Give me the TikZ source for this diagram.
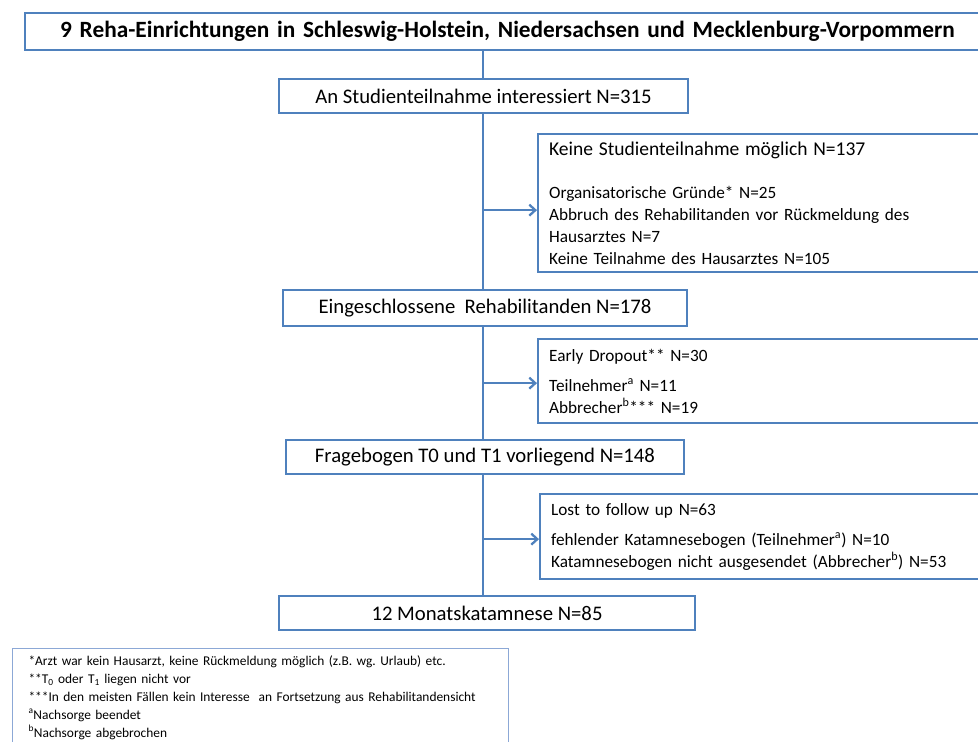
\documentclass[tikz,border=0pt]{standalone}
\usepackage{fontspec}
\setmainfont{Carlito}
\usepackage{xcolor}
\usepackage{tikz}
\usetikzlibrary{arrows.meta,positioning}
\frenchspacing

\definecolor{boxblue}{HTML}{4F81BD}
\definecolor{noteblue}{HTML}{8CA8D6}

\begin{document}
\begin{tikzpicture}[>={Straight Barb[length=6bp,width=11bp]}]
 \tikzstyle{mainbox}=[draw=boxblue,line width=2.3bp,fill=white,inner sep=0pt,
   minimum height=34bp,font=\fontsize{20.8}{24}\selectfont]
 \tikzstyle{sidebox}=[draw=boxblue,line width=2.3bp,fill=white,anchor=north west,
   text width=458bp,inner xsep=11bp,align=left,font=\fontsize{17.3}{22}\selectfont]
 \tikzstyle{link}=[draw=boxblue,line width=2.3bp]
 \useasboundingbox (0bp,0bp) rectangle (978bp,-742bp);
 \clip (0bp,0bp) rectangle (978bp,-742bp);

 \node (title) at (24bp,-31.5bp) [draw=boxblue,line width=2.3bp,anchor=west,
   minimum height=37bp,text width=990bp,inner xsep=35bp,align=left,
   font=\fontsize{23.4}{26}\selectfont\bfseries]
   {9 Reha-Einrichtungen in Schleswig-Holstein, Niedersachsen und Mecklenburg-Vorpommern};

 \node (A) at (483.5bp,-96bp) [mainbox,minimum width=409bp] {An Studienteilnahme interessiert N=315};
 \node (B) at (485bp,-308bp) [mainbox,minimum width=404bp,minimum height=36bp] {Eingeschlossene\ \ Rehabilitanden N=178};
 \node (C) at (485bp,-457bp) [mainbox,minimum width=398bp] {Fragebogen T0 und T1 vorliegend N=148};
 \node (D) at (487bp,-613bp) [mainbox,minimum width=416bp] {12 Monatskatamnese N=85};

 \node (S1) at (537bp,-133bp) [sidebox,minimum height=138bp]
   {{\fontsize{19.6}{22}\selectfont Keine Studienteilnahme m\"oglich N=137}\\[22bp]
    Organisatorische Gr\"unde* N=25\\
    Abbruch des Rehabilitanden vor R\"uckmeldung des\\
    Hausarztes N=7\\
    Keine Teilnahme des Hausarztes N=105};
 \node (S2) at (537bp,-338bp) [sidebox,minimum height=84bp]
   {Early Dropout** N=30\\[8bp]
    Teilnehmer\textsuperscript{a} N=11\\
    Abbrecher\textsuperscript{b}*** N=19};
 \node (S3) at (539bp,-493bp) [sidebox,minimum height=85bp]
   {Lost to follow up N=63\\[8bp]
    fehlender Katamnesebogen (Teilnehmer\textsuperscript{a}) N=10\\
    Katamnesebogen nicht ausgesendet (Abbrecher\textsuperscript{b}) N=53};

 \node (notes) at (12bp,-648bp) [draw=noteblue,line width=1bp,anchor=north west,
   minimum height=98bp,text width=464bp,inner xsep=16bp,align=left,
   font=\fontsize{13.45}{18}\selectfont]
   {*Arzt war kein Hausarzt, keine R\"uckmeldung m\"oglich (z.B. wg. Urlaub) etc.\\{}
    **T\textsubscript{0} oder T\textsubscript{1} liegen nicht vor\\{}
    ***In den meisten F\"allen kein Interesse\ \ an Fortsetzung aus Rehabilitandensicht\\
    \textsuperscript{a}Nachsorge beendet\\
    \textsuperscript{b}Nachsorge abgebrochen};

 % trunk
 \draw [link] (title.south -| 483bp,0) -- (A.north -| 483bp,0);
 \draw [link] (A.south -| 483bp,0) -- (B.north -| 483bp,0);
 \draw [link] (B.south -| 483bp,0) -- (C.north -| 483bp,0);
 \draw [link] (C.south -| 483bp,0) -- (D.north -| 483bp,0);

 % drop outs
 \draw [link,->] ([yshift=-7bp]S1.west -| 483bp,0) -- ([yshift=-7bp]S1.west);
 \draw [link,->] ([yshift=-2bp]S2.west -| 483bp,0) -- ([yshift=-2bp]S2.west);
 \draw [link,->] ([yshift=-2.5bp]S3.west -| 483bp,0) -- ([yshift=-2.5bp]S3.west);
\end{tikzpicture}
\end{document}
